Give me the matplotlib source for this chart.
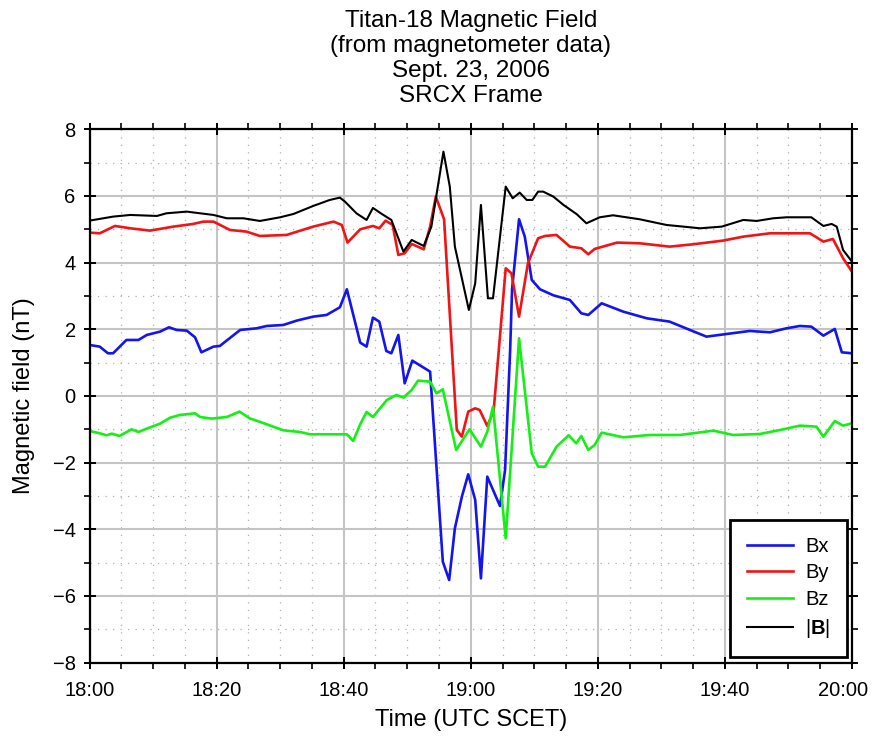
import matplotlib
matplotlib.use("Agg")
import matplotlib.pyplot as plt
import matplotlib.transforms as mtransforms
from matplotlib.ticker import MultipleLocator

plt.rcParams["font.family"] = ["Liberation Sans", "DejaVu Sans"]
plt.rcParams["mathtext.fontset"] = "custom"
plt.rcParams["mathtext.rm"] = "Liberation Sans"
plt.rcParams["mathtext.bf"] = "Liberation Sans:bold"

# time in minutes after 18:00 SCET, field in nT
bx_min = [0.0, 1.6, 2.9, 3.7, 5.8, 7.7, 9.0, 11.1, 12.5, 13.7, 15.3, 16.6, 17.6,
          19.5, 20.5, 23.7, 26.3, 27.9, 30.5, 32.6, 35.2, 37.3, 39.4, 40.5, 42.6,
          43.6, 44.6, 45.6, 46.7, 47.5, 48.6, 49.6, 50.8, 53.6, 55.6, 56.6, 57.5,
          58.6, 59.6, 60.7, 61.6, 62.6, 64.6, 65.4, 66.2, 66.5, 67.6, 68.5, 69.6,
          70.9, 73.0, 75.6, 77.4, 78.5, 80.6, 84.0, 87.7, 91.3, 94.5, 97.1, 100.3,
          103.9, 107.1, 109.7, 111.8, 113.6, 115.5, 117.3, 118.4, 120.0]
bx_nt = [1.53, 1.48, 1.28, 1.28, 1.68, 1.68, 1.83, 1.93, 2.06, 1.98, 1.96, 1.76, 1.31,
         1.48, 1.50, 1.98, 2.03, 2.10, 2.13, 2.26, 2.38, 2.43, 2.66, 3.20, 1.60,
         1.48, 2.35, 2.23, 1.35, 1.28, 1.83, 0.38, 1.06, 0.73, -4.97, -5.52, -3.97,
         -3.02, -2.35, -3.12, -5.47, -2.42, -3.30, -2.22, 1.38, 3.20, 5.30, 4.78, 3.48,
         3.20, 3.02, 2.88, 2.48, 2.43, 2.78, 2.53, 2.33, 2.23, 1.98, 1.78, 1.86,
         1.95, 1.91, 2.03, 2.10, 2.08, 1.81, 2.01, 1.31, 1.28]

by_min = [0.0, 1.6, 4.0, 6.4, 9.5, 13.2, 16.3, 17.9, 19.5, 22.1, 24.7, 26.8, 31.0,
          35.2, 38.4, 39.7, 40.6, 42.6, 44.6, 45.6, 46.6, 47.7, 48.6, 49.6, 50.7,
          52.6, 53.6, 54.5, 55.8, 57.8, 58.6, 59.6, 60.7, 61.4, 62.6, 63.6, 65.5,
          66.4, 67.6, 69.0, 70.6, 71.7, 73.5, 75.6, 77.4, 78.5, 79.5, 83.0, 86.6,
          91.3, 95.0, 99.7, 102.9, 107.1, 113.4, 115.5, 117.0, 118.6, 120.0]
by_nt = [4.90, 4.88, 5.10, 5.03, 4.96, 5.08, 5.16, 5.23, 5.23, 4.98, 4.93, 4.80, 4.83,
         5.08, 5.23, 5.13, 4.60, 5.00, 5.10, 5.03, 5.26, 5.13, 4.23, 4.28, 4.56,
         4.40, 5.08, 5.98, 5.30, -1.02, -1.22, -0.47, -0.37, -0.42, -0.90, -0.45, 3.83,
         3.68, 2.38, 3.98, 4.73, 4.80, 4.83, 4.48, 4.43, 4.25, 4.41, 4.60, 4.58,
         4.48, 4.55, 4.66, 4.78, 4.88, 4.88, 4.63, 4.71, 4.13, 3.73]

bz_min = [0.0, 1.6, 2.7, 3.5, 4.7, 6.6, 7.7, 9.0, 11.1, 12.7, 14.2, 16.6, 17.4,
          19.2, 21.6, 23.6, 25.2, 27.9, 30.5, 33.1, 34.7, 40.5, 41.5, 42.6, 43.6,
          44.6, 46.8, 48.3, 49.4, 50.7, 51.7, 53.6, 54.6, 55.6, 57.7, 59.8, 61.6,
          62.6, 63.5, 65.5, 67.6, 69.6, 70.6, 71.7, 73.5, 75.4, 76.6, 77.4, 78.5,
          79.5, 80.6, 84.0, 88.2, 92.9, 98.2, 101.3, 105.5, 108.7, 111.8, 114.4,
          115.5, 117.3, 118.6, 120.0]
bz_nt = [-1.05, -1.12, -1.18, -1.13, -1.20, -1.00, -1.08, -0.98, -0.83, -0.65, -0.57, -0.52, -0.63,
         -0.68, -0.63, -0.47, -0.67, -0.85, -1.03, -1.08, -1.15, -1.15, -1.35, -0.85, -0.48,
         -0.63, -0.12, 0.03, -0.05, 0.18, 0.46, 0.43, 0.08, 0.20, -1.62, -1.00, -1.52,
         -1.07, -0.32, -4.27, 1.73, -1.72, -2.12, -2.12, -1.52, -1.18, -1.42, -1.20, -1.62,
         -1.47, -1.10, -1.24, -1.17, -1.17, -1.04, -1.17, -1.14, -1.02, -0.89, -0.92,
         -1.22, -0.75, -0.89, -0.82]

bmag_min = [0.0, 3.7, 6.4, 10.6, 12.1, 15.3, 19.5, 21.6, 24.2, 26.8, 30.0, 32.1, 35.2,
            37.8, 39.4, 40.2, 42.0, 43.6, 44.6, 46.0, 47.5, 49.4, 50.7, 52.6, 53.8,
            55.7, 56.7, 57.5, 59.7, 60.7, 61.6, 62.7, 63.5, 65.5, 66.6, 67.7, 68.8,
            69.7, 70.6, 71.4, 73.0, 74.6, 76.7, 78.2, 80.3, 82.4, 86.6, 90.8, 96.1,
            99.5, 102.9, 105.0, 107.6, 109.7, 113.6, 115.5, 116.8, 117.6, 118.6, 120.0]
bmag_nt = [5.26, 5.38, 5.43, 5.40, 5.48, 5.53, 5.43, 5.33, 5.33, 5.25, 5.36, 5.46, 5.70,
           5.88, 5.95, 5.83, 5.48, 5.28, 5.64, 5.46, 5.28, 4.33, 4.68, 4.50, 5.08,
           7.33, 6.28, 4.48, 2.58, 3.38, 5.73, 2.93, 2.93, 6.28, 5.93, 6.10, 5.88,
           5.88, 6.13, 6.13, 5.98, 5.73, 5.45, 5.18, 5.36, 5.42, 5.30, 5.13, 5.03,
           5.08, 5.28, 5.25, 5.33, 5.36, 5.36, 5.10, 5.16, 5.08, 4.38, 4.03]

tick_min = [0, 20, 40, 60, 80, 100, 120]
tick_labels = ["18:00", "18:20", "18:40", "19:00", "19:20", "19:40", "20:00"]

fig = plt.figure(figsize=(8.73, 7.4), dpi=100)
ax = fig.add_axes([0.1026, 0.1045, 0.8733, 0.7208])

lw = 1.9
ax.plot(bx_min, bx_nt, color="#1414f0", lw=lw, label="Bx", zorder=3)
ax.plot(by_min, by_nt, color="#f01414", lw=lw, label="By", zorder=3)
ax.plot(bz_min, bz_nt, color="#14f014", lw=lw, label="Bz", zorder=3)
ax.plot(bmag_min, bmag_nt, color="black", lw=1.5, label=r"$|\mathbf{B}|$", zorder=3)

ax.set_xlim(0, 120)
ax.set_ylim(-8, 8)
ax.set_xticks(tick_min)
ax.set_xticklabels(tick_labels)
ax.xaxis.set_minor_locator(MultipleLocator(5))
ax.yaxis.set_major_locator(MultipleLocator(2))
ax.yaxis.set_minor_locator(MultipleLocator(1))

ax.grid(which="major", color="#c4c4c4", lw=1.5, zorder=0)
ax.grid(which="minor", color="#b0b0b0", lw=0.9, ls=(0, (1, 5)), zorder=0)

for s in ax.spines.values():
    s.set_linewidth(1.6)
    s.set_zorder(4)

ax.tick_params(which="major", direction="inout", length=8, width=1.4,
               top=True, right=True, labelsize=14.5, pad=6)
ax.tick_params(axis="x", which="major", pad=9)
ax.tick_params(which="minor", direction="out", length=4, width=1.2,
               top=True, right=True)

# keep the last time label inside the canvas
last = ax.get_xticklabels()[-1]
last.set_transform(last.get_transform() +
                   mtransforms.ScaledTranslation(-9 / 100, 0, fig.dpi_scale_trans))

ax.set_xlabel("Time (UTC SCET)", fontsize=17, labelpad=7)
ax.set_ylabel("Magnetic field (nT)", fontsize=17, labelpad=13)
ax.set_title("Titan-18 Magnetic Field\n(from magnetometer data)\nSept. 23, 2006\nSRCX Frame",
             fontsize=17.5, pad=20, linespacing=1.16)

leg = ax.legend(loc="lower right", bbox_to_anchor=(0.994, 0.011), borderaxespad=0,
                fontsize=14.5, frameon=True, fancybox=False, edgecolor="black",
                handlelength=2.3, handletextpad=0.6, labelspacing=0.38,
                borderpad=0.85, framealpha=1)
leg.get_frame().set_linewidth(2.0)
leg.set_zorder(5)

fig.savefig("out.png", dpi=100)
